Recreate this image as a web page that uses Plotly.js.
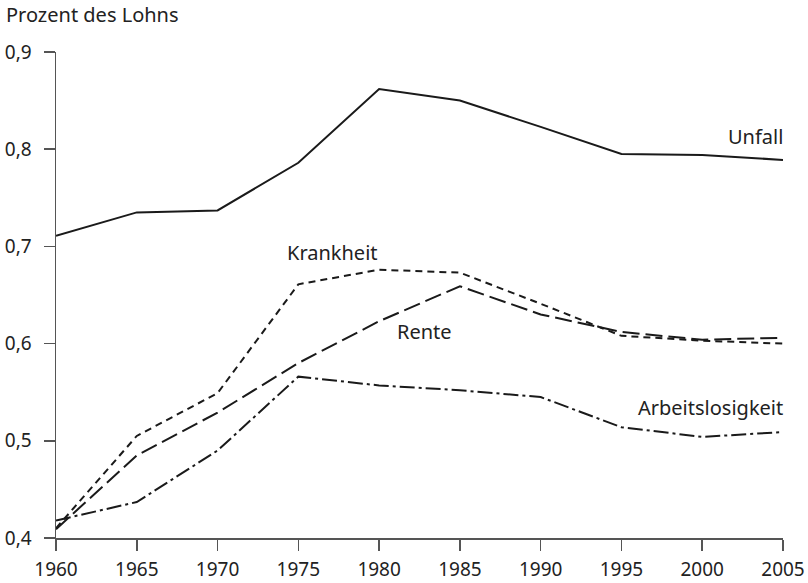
<!DOCTYPE html>
<html>
<head>
<meta charset="utf-8">
<script src="https://cdn.plot.ly/plotly-3.0.1.min.js"></script>
<style>html,body{margin:0;padding:0;background:#fff;}#chart{width:808px;height:583px;}</style>
</head>
<body>
<div id="chart"></div>
<script>
const years = [1960, 1965, 1970, 1975, 1980, 1985, 1990, 1995, 2000, 2005];
const unfall = [0.711, 0.735, 0.737, 0.786, 0.862, 0.850, 0.823, 0.795, 0.794, 0.789];
const krankheit = [0.410, 0.505, 0.549, 0.661, 0.676, 0.673, 0.641, 0.608, 0.603, 0.600];
const rente = [0.409, 0.485, 0.529, 0.580, 0.623, 0.659, 0.630, 0.612, 0.604, 0.606];
const arbeitslosigkeit = [0.418, 0.437, 0.490, 0.566, 0.557, 0.552, 0.545, 0.514, 0.504, 0.509];
const yTicks = [0.4, 0.5, 0.6, 0.7, 0.8, 0.9];
const yTitle = "Prozent des Lohns";

const lineColor = "#1a1a1a";
const font = {family: "Noto Sans, Open Sans, sans-serif", size: 20, color: "#222"};
const tickFont = {family: "Noto Sans, Open Sans, sans-serif", size: 19, color: "#222"};

const traces = [
  {x: years, y: unfall, mode: "lines", line: {color: lineColor, width: 2, dash: "solid"}, name: "Unfall"},
  {x: years, y: krankheit, mode: "lines", line: {color: lineColor, width: 2, dash: "7px,5px"}, name: "Krankheit"},
  {x: years, y: rente, mode: "lines", line: {color: lineColor, width: 2, dash: "17px,6px"}, name: "Rente"},
  {x: years, y: arbeitslosigkeit, mode: "lines", line: {color: lineColor, width: 2, dash: "15px,4px,3px,4px"}, name: "Arbeitslosigkeit"}
];

const layout = {
  width: 808, height: 583,
  margin: {l: 56, r: 25, t: 52, b: 45},
  paper_bgcolor: "#fff", plot_bgcolor: "#fff",
  showlegend: false,
  separators: ",.",
  font: font,
  xaxis: {
    range: [1960, 2005], tickvals: years, ticktext: years.map(String),
    showgrid: false, zeroline: false, showline: true, linecolor: "#555", linewidth: 1.5,
    ticks: "outside", ticklen: 11, tickwidth: 1.5, tickcolor: "#555",
    ticklabelstandoff: 3,
    tickfont: tickFont
  },
  yaxis: {
    range: [0.4, 0.9], tickvals: yTicks, tickformat: ".1f",
    showgrid: false, zeroline: false, showline: true, linecolor: "#555", linewidth: 1.5,
    ticks: "outside", ticklen: 11, tickwidth: 1.5, tickcolor: "#555",
    ticklabelstandoff: 8,
    tickfont: tickFont
  },
  annotations: [
    {text: yTitle, xref: "paper", yref: "paper", x: 0, y: 1, xanchor: "left", yanchor: "middle", xshift: -52, yshift: 38, showarrow: false, font: font},
    {text: "Unfall", xref: "x", yref: "y", x: 2005, y: 0.813, xanchor: "right", yanchor: "middle", xshift: 2, showarrow: false, font: font},
    {text: "Krankheit", xref: "x", yref: "y", x: 1977.1, y: 0.694, xanchor: "center", yanchor: "middle", showarrow: false, font: font},
    {text: "Rente", xref: "x", yref: "y", x: 1982.8, y: 0.6125, xanchor: "center", yanchor: "middle", showarrow: false, font: font},
    {text: "Arbeitslosigkeit", xref: "x", yref: "y", x: 2005, y: 0.534, xanchor: "right", yanchor: "middle", xshift: 2, showarrow: false, font: font}
  ]
};

Plotly.newPlot("chart", traces, layout, {displayModeBar: false, staticPlot: true});
</script>
</body>
</html>
